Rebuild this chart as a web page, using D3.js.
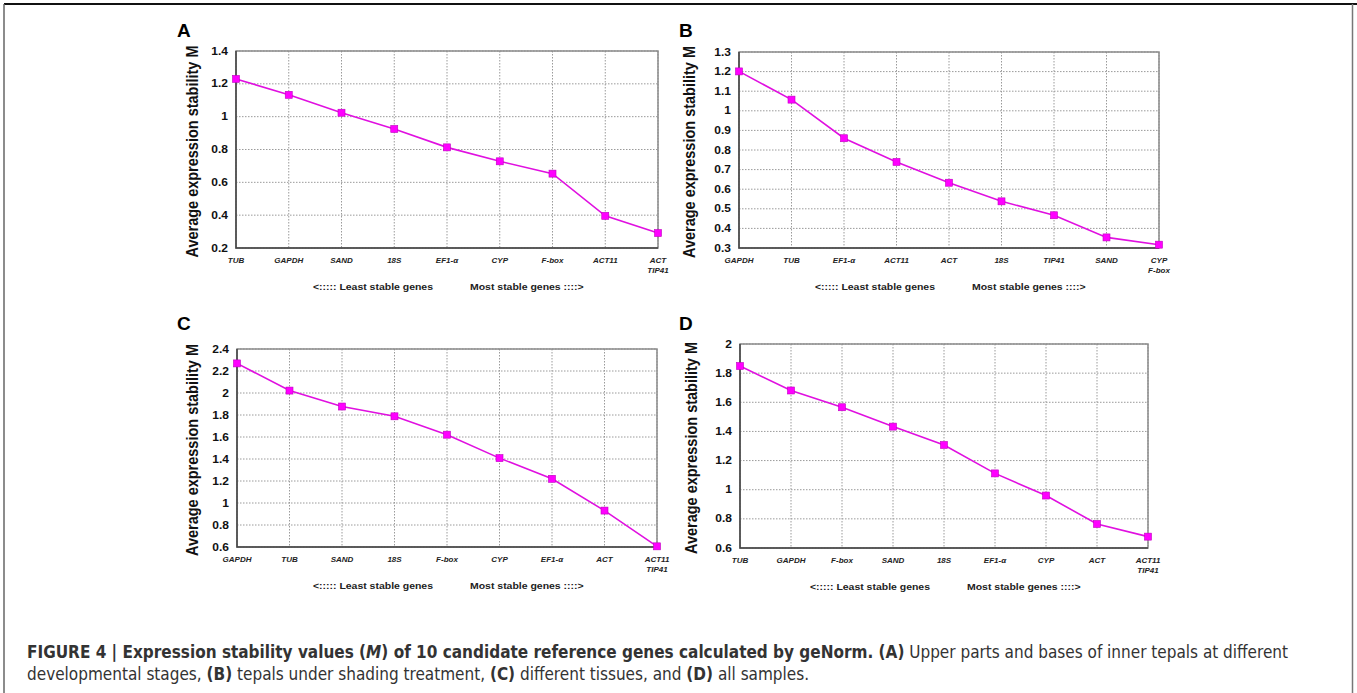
<!DOCTYPE html>
<html>
<head>
<meta charset="utf-8">
<script src="https://cdn.jsdelivr.net/npm/d3@7"></script>
<style>
  body { margin: 0; background: #fff; }
  svg { display: block; font-family: "Liberation Sans", Arial, sans-serif; }
  .grid line { stroke: #9a9a9a; stroke-width: 1; stroke-dasharray: 1.5,1.5; }
  .ytick { font-size: 10px; font-weight: bold; fill: #111; }
  .xtick { font-size: 8px; font-weight: bold; font-style: italic; fill: #222; }
  .ytitle { font-size: 14.5px; font-weight: bold; fill: #111; }
  .note { font-size: 9.8px; font-weight: bold; fill: #222; }
  .letter { font-size: 19px; font-weight: bold; fill: #000; }
  .caption { font-family: "Liberation Sans Narrow", "DejaVu Sans Condensed", sans-serif; font-size: 17px; fill: #333; }
</style>
</head>
<body>
<svg id="fig" width="1357" height="693"></svg>
<script>
// genes ranked from least stable (left) to most stable (right), "\n" = two genes sharing the last rank
const genesA = ["TUB", "GAPDH", "SAND", "18S", "EF1-α", "CYP", "F-box", "ACT11", "ACT\nTIP41"];
const valuesA = [1.230, 1.133, 1.024, 0.925, 0.813, 0.728, 0.653, 0.396, 0.291];
const ticksA = [0.2, 0.4, 0.6, 0.8, 1.0, 1.2, 1.4];

const genesB = ["GAPDH", "TUB", "EF1-α", "ACT11", "ACT", "18S", "TIP41", "SAND", "CYP\nF-box"];
const valuesB = [1.201, 1.057, 0.860, 0.739, 0.633, 0.538, 0.467, 0.354, 0.317];
const ticksB = [0.3, 0.4, 0.5, 0.6, 0.7, 0.8, 0.9, 1.0, 1.1, 1.2, 1.3];

const genesC = ["GAPDH", "TUB", "SAND", "18S", "F-box", "CYP", "EF1-α", "ACT", "ACT11\nTIP41"];
const valuesC = [2.269, 2.022, 1.877, 1.788, 1.621, 1.408, 1.220, 0.931, 0.606];
const ticksC = [0.6, 0.8, 1.0, 1.2, 1.4, 1.6, 1.8, 2.0, 2.2, 2.4];

const genesD = ["TUB", "GAPDH", "F-box", "SAND", "18S", "EF1-α", "CYP", "ACT", "ACT11\nTIP41"];
const valuesD = [1.849, 1.681, 1.566, 1.433, 1.307, 1.112, 0.960, 0.765, 0.678];
const ticksD = [0.6, 0.8, 1.0, 1.2, 1.4, 1.6, 1.8, 2.0];

const yTitle = "Average expression stability M";

const svg = d3.select("#fig");

// the chart images in the figure are a little stretched sideways
const stretch = 1.2;

// page frame
svg.append("line").attr("x1", 4).attr("x2", 1357).attr("y1", 4).attr("y2", 4)
    .attr("stroke", "#111").attr("stroke-width", 2);
svg.append("line").attr("x1", 4).attr("x2", 4).attr("y1", 4).attr("y2", 693)
    .attr("stroke", "#666").attr("stroke-width", 1.5);
svg.append("line").attr("x1", 1352.5).attr("x2", 1352.5).attr("y1", 4).attr("y2", 693)
    .attr("stroke", "#777").attr("stroke-width", 1.5);

/**
 * Draw one geNorm panel: dotted grid, ranked genes on x, M on y.
 */
function drawPanel(p) {
    let x = d3.scalePoint().domain(d3.range(p.genes.length)).range([p.left, p.right]);
    let y = d3.scaleLinear().domain(d3.extent(p.ticks)).range([p.bottom, p.top]);
    let g = svg.append("g");

    // grid
    let grid = g.append("g").attr("class", "grid");
    grid.selectAll(".h").data(p.ticks).join("line")
        .attr("x1", p.left).attr("x2", p.right)
        .attr("y1", d => y(d)).attr("y2", d => y(d));
    grid.selectAll(".v").data(d3.range(p.genes.length)).join("line")
        .attr("x1", d => x(d)).attr("x2", d => x(d))
        .attr("y1", p.top).attr("y2", p.bottom);

    // frame + axes
    g.append("rect").attr("x", p.left).attr("y", p.top)
        .attr("width", p.right - p.left).attr("height", p.bottom - p.top)
        .attr("fill", "none").attr("stroke", "#8a8a8a").attr("stroke-width", 1.5);
    g.append("path")
        .attr("d", "M" + p.left + "," + p.top + "V" + p.bottom + "H" + p.right)
        .attr("fill", "none").attr("stroke", "#444").attr("stroke-width", 1.5);

    // y tick labels
    g.selectAll(".ytick").data(p.ticks).join("text")
        .attr("class", "ytick")
        .attr("transform", d => "translate(" + (p.left - 8) + "," + y(d) + ") scale(" + stretch + ",1)")
        .attr("dy", "0.36em")
        .attr("text-anchor", "end")
        .text(d => d3.format("~g")(d));

    // x tick labels (may be two lines)
    let xt = g.selectAll(".xtick").data(p.genes).join("text")
        .attr("class", "xtick")
        .attr("text-anchor", "middle")
        .attr("transform", (d, i) => "translate(" + x(i) + "," + (p.bottom + 15) + ")");
    xt.selectAll("tspan").data(d => d.split("\n")).join("tspan")
        .attr("x", 0).attr("y", (d, i) => i * 10)
        .text(d => d);

    // y title
    g.append("text").attr("class", "ytitle")
        .attr("transform", "translate(" + p.titleX + "," + ((p.top + p.bottom) / 2 + 2) + ") rotate(-90) scale(1,1.15)")
        .attr("text-anchor", "middle").attr("dy", "0.36em")
        .text(yTitle);

    // ranking note under the axis
    let mid = (p.left + p.right) / 2;
    g.append("text").attr("class", "note")
        .attr("transform", "translate(" + (mid - 14) + "," + (p.bottom + 42) + ") scale(1.07,1)")
        .attr("text-anchor", "end")
        .text("<:::::  Least stable genes");
    g.append("text").attr("class", "note")
        .attr("transform", "translate(" + (mid + 23) + "," + (p.bottom + 42) + ") scale(1.07,1)")
        .attr("text-anchor", "start")
        .text("Most stable genes ::::>");

    // series
    let line = d3.line().x((d, i) => x(i)).y(d => y(d));
    g.append("path").datum(p.values)
        .attr("d", line)
        .attr("fill", "none").attr("stroke", "#e010e0").attr("stroke-width", 1.6);
    g.selectAll(".pt").data(p.values).join("rect")
        .attr("x", (d, i) => x(i) - 3.5).attr("y", d => y(d) - 3.5)
        .attr("width", 7).attr("height", 7)
        .attr("fill", "#ff00ff").attr("stroke", "#c000c0").attr("stroke-width", 0.6);

    // panel letter
    svg.append("text").attr("class", "letter")
        .attr("x", p.letterX).attr("y", p.letterY).text(p.letter);
}

drawPanel({letter: "A", genes: genesA, values: valuesA, ticks: ticksA,
    left: 236, right: 658, top: 51, bottom: 248, titleX: 192, letterX: 177, letterY: 37});
drawPanel({letter: "B", genes: genesB, values: valuesB, ticks: ticksB,
    left: 739, right: 1159, top: 52, bottom: 248, titleX: 689, letterX: 679, letterY: 37});
drawPanel({letter: "C", genes: genesC, values: valuesC, ticks: ticksC,
    left: 237, right: 657, top: 349, bottom: 547, titleX: 192, letterX: 177, letterY: 330});
drawPanel({letter: "D", genes: genesD, values: valuesD, ticks: ticksD,
    left: 740, right: 1148, top: 344, bottom: 548, titleX: 691, letterX: 679, letterY: 330});

// figure caption
const cap1 = [
    ["FIGURE 4 | Expression stability values (", true, false],
    ["M", true, true],
    [") of 10 candidate reference genes calculated by geNorm. (A)", true, false],
    [" Upper parts and bases of inner tepals at different", false, false]
];
const cap2 = [
    ["developmental stages, ", false, false],
    ["(B)", true, false],
    [" tepals under shading treatment, ", false, false],
    ["(C)", true, false],
    [" different tissues, and ", false, false],
    ["(D)", true, false],
    [" all samples.", false, false]
];
[[cap1, 658], [cap2, 680]].forEach(function (c) {
    let t = svg.append("text").attr("class", "caption").attr("x", 27).attr("y", c[1]);
    t.selectAll("tspan").data(c[0]).join("tspan")
        .attr("font-weight", d => d[1] ? "bold" : "normal")
        .attr("font-style", d => d[2] ? "italic" : "normal")
        .text(d => d[0]);
});
</script>
</body>
</html>
